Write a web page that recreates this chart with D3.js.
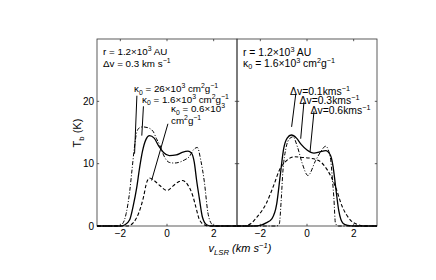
<!DOCTYPE html>
<html><head><meta charset="utf-8">
<script src="https://cdn.jsdelivr.net/npm/d3@7"></script>
<style>body{margin:0;background:#fff}svg{display:block}text{font-family:"Liberation Sans",Arial,Helvetica,sans-serif;fill:#000}</style>
</head><body><svg id="c" width="436" height="280"></svg>
<script>
// ---- data ----
const xTicks = [-2, 0, 2];
const yTicks = [0, 10, 20];

// left panel: r = 1.2e3 AU, dv = 0.3 km/s, varying kappa0
const leftK26V = [-3, -2.1, -1.9, -1.75, -1.6, -1.5, -1.4, -1.3, -1.2, -1.05, -0.85, -0.6, -0.45, -0.3, -0.15, 0.1, 0.3, 0.5, 0.75, 0.95, 1.15, 1.3, 1.45, 1.6, 1.75, 1.9, 2.05, 3];
const leftK26T = [0, 0, 0.4, 2, 5.5, 9, 12.5, 15, 15.7, 15.9, 15.8, 15.2, 14.0, 12.9, 11.4, 10.2, 10.1, 10.2, 10.6, 11.1, 12.3, 12.6, 10.5, 7.1, 2.2, 0.4, 0, 0];
const leftK16V = [-3, -2.0, -1.8, -1.6, -1.45, -1.3, -1.18, -1.05, -0.9, -0.75, -0.55, -0.35, -0.15, 0.1, 0.4, 0.65, 0.9, 1.05, 1.17, 1.27, 1.38, 1.52, 1.7, 1.9, 3];
const leftK16T = [0, 0, 0.2, 1.0, 3.2, 6.1, 9.2, 12.0, 13.9, 14.5, 14.1, 12.8, 11.8, 11.3, 11.4, 11.8, 12.0, 11.7, 10.2, 7.3, 4.6, 1.4, 0.2, 0, 0];
const leftK06V = [-3, -1.7, -1.45, -1.22, -1.01, -0.87, -0.75, -0.55, -0.31, 0, 0.25, 0.5, 0.65, 0.89, 1.1, 1.24, 1.38, 1.59, 1.8, 3];
const leftK06T = [0, 0, 0.5, 2.0, 4.6, 7.0, 7.7, 7.3, 6.5, 5.7, 6.4, 7.1, 7.3, 6.6, 4.9, 3.0, 1.1, 0.2, 0, 0];

// right panel: r = 1.2e3 AU, kappa0 = 1.6e3, varying dv
const rightDv01V = [-3, -1.3, -1.19, -1.1, -1.04, -0.9, -0.75, -0.6, -0.41, -0.2, 0.04, 0.37, 0.6, 0.8, 1.0, 1.1, 1.15, 1.22, 1.35, 3];
const rightDv01T = [0, 0, 0.3, 4.5, 8.4, 12.5, 14.0, 14.3, 12.7, 10.0, 8.1, 10.5, 12.0, 12.8, 11.0, 7.0, 4.6, 0.4, 0, 0];
const rightDv03V = [-3, -2.3, -2.0, -1.75, -1.5, -1.3, -1.15, -1.0, -0.85, -0.67, -0.45, -0.25, 0.0, 0.3, 0.55, 0.8, 1.0, 1.12, 1.22, 1.36, 1.55, 1.75, 2.0, 3];
const rightDv03T = [0, 0, 0.1, 0.5, 1.2, 3.5, 8.0, 12.4, 14.1, 14.6, 14.1, 13.1, 12.2, 11.7, 11.9, 12.1, 11.4, 9.5, 6.5, 2.5, 0.4, 0.1, 0, 0];
const rightDv06V = [-3, -2.7, -2.4, -2.15, -1.75, -1.4, -1.19, -0.9, -0.55, -0.2, 0.1, 0.5, 0.87, 1.22, 1.5, 1.85, 2.2, 2.5, 3];
const rightDv06T = [0, 0, 0.4, 1.4, 3.6, 6.8, 8.9, 10.4, 11.1, 11.0, 10.9, 10.5, 9.0, 6.3, 3.2, 1.0, 0.2, 0, 0];

// ---- layout ----
const svg = d3.select("#c");
const yTop = 39, yBot = 226;
const panels = [{x0: 97, x1: 237}, {x0: 237, x1: 377}];
const y = d3.scaleLinear().domain([0, 30]).range([yBot, yTop]);
const xs = panels.map(p => d3.scaleLinear().domain([-3, 3]).range([p.x0, p.x1]));

const styles = {
  solid: {w: 1.3, dash: null},
  dashed: {w: 1.1, dash: "3.5,2.2"},
  dashdot: {w: 1.0, dash: "4,1.8,1,1.8"}
};

function drawCurve(g, x, V, T, st) {
  const pts = V.map((v, i) => [v, T[i]]);
  const line = d3.line().x(d => x(d[0])).y(d => y(d[1])).curve(d3.curveMonotoneX);
  g.append("path").attr("d", line(pts)).attr("fill", "none").attr("stroke", "#000")
    .attr("stroke-width", styles[st].w).attr("stroke-dasharray", styles[st].dash)
    .attr("stroke-linejoin", "round");
}

function drawFrame(i, showYLabels) {
  const p = panels[i], x = xs[i];
  const g = svg.append("g");
  g.append("rect").attr("x", p.x0).attr("y", yTop).attr("width", p.x1 - p.x0).attr("height", yBot - yTop)
    .attr("fill", "none").attr("stroke", "#333").attr("stroke-width", 0.8);
  const tl = 2.2;
  xTicks.forEach(t => {
    g.append("line").attr("x1", x(t)).attr("x2", x(t)).attr("y1", yBot).attr("y2", yBot - tl).attr("stroke", "#333").attr("stroke-width", 0.8);
    g.append("line").attr("x1", x(t)).attr("x2", x(t)).attr("y1", yTop).attr("y2", yTop + tl).attr("stroke", "#333").attr("stroke-width", 0.8);
    g.append("text").attr("x", x(t)).attr("y", yBot + 11).attr("text-anchor", "middle").attr("font-size", 10)
      .text(d3.format("")(t));
  });
  yTicks.forEach(t => {
    g.append("line").attr("x1", p.x0).attr("x2", p.x0 + tl).attr("y1", y(t)).attr("y2", y(t)).attr("stroke", "#333").attr("stroke-width", 0.8);
    g.append("line").attr("x1", p.x1).attr("x2", p.x1 - tl).attr("y1", y(t)).attr("y2", y(t)).attr("stroke", "#333").attr("stroke-width", 0.8);
    if (showYLabels) g.append("text").attr("x", p.x0 - 3).attr("y", y(t) + 3.6).attr("text-anchor", "end").attr("font-size", 10).text(t);
  });
  return g;
}

// rich text helper: parts = [[text, mode]] mode: n normal, sup, sub
function rich(g, xp, yp, parts, fs) {
  const t = g.append("text").attr("x", xp).attr("y", yp).attr("font-size", fs);
  let shift = 0;
  parts.forEach(([s, m]) => {
    const ts = t.append("tspan").text(s);
    let target = 0, size = fs;
    if (m === "sup") { target = -0.38 * fs; size = fs * 0.7; }
    if (m === "sub") { target = 0.26 * fs; size = fs * 0.7; }
    ts.attr("dy", target - shift).attr("font-size", size);
    shift = target;
  });
  return t;
}

function pointer(g, x, v1, t1, v2, t2) {
  g.append("line").attr("x1", x(v1)).attr("y1", y(t1)).attr("x2", x(v2)).attr("y2", y(t2))
    .attr("stroke", "#000").attr("stroke-width", 1);
}

// ---- left panel ----
const gL = drawFrame(0, true);
const xL = xs[0];
drawCurve(gL, xL, leftK26V, leftK26T, "dashdot");
drawCurve(gL, xL, leftK06V, leftK06T, "dashed");
drawCurve(gL, xL, leftK16V, leftK16T, "solid");
const fsL = 9.8;
rich(gL, 103, 55, [["r = 1.2×10", "n"], ["3", "sup"], [" AU", "n"]], fsL);
rich(gL, 103, 67, [["Δv = 0.3 km s", "n"], ["−1", "sup"]], fsL);
rich(gL, 134, 92, [["κ", "n"], ["0", "sub"], [" = 26×10", "n"], ["3", "sup"], [" cm", "n"], ["2", "sup"], ["g", "n"], ["−1", "sup"]], fsL);
rich(gL, 142, 102.5, [["κ", "n"], ["0", "sub"], [" = 1.6×10", "n"], ["3", "sup"], [" cm", "n"], ["2", "sup"], ["g", "n"], ["−1", "sup"]], fsL);
rich(gL, 171, 112, [["κ", "n"], ["0", "sub"], [" = 0.6×10", "n"], ["3", "sup"]], fsL);
rich(gL, 171, 124, [["cm", "n"], ["2", "sup"], ["g", "n"], ["−1", "sup"]], fsL);
pointer(gL, xL, -1.29, 20.9, -1.39, 11.6);
pointer(gL, xL, -1.01, 19.2, -1.08, 14.5);
pointer(gL, xL, 0.04, 16.4, -0.66, 7.3);

// ---- right panel ----
const gR = drawFrame(1, false);
const xR = xs[1];
drawCurve(gR, xR, rightDv01V, rightDv01T, "dashdot");
drawCurve(gR, xR, rightDv06V, rightDv06T, "dashed");
drawCurve(gR, xR, rightDv03V, rightDv03T, "solid");
const fsR = 10.4;
rich(gR, 243, 55.5, [["r = 1.2×10", "n"], ["3", "sup"], [" AU", "n"]], fsR);
rich(gR, 243, 66.5, [["κ", "n"], ["0", "sub"], [" = 1.6×10", "n"], ["3", "sup"], [" cm", "n"], ["2", "sup"], ["g", "n"], ["−1", "sup"]], fsR);
rich(gR, 290, 95, [["Δv=0.1kms", "n"], ["−1", "sup"]], fsR);
rich(gR, 299.5, 104.3, [["Δv=0.3kms", "n"], ["−1", "sup"]], fsR);
rich(gR, 310.5, 113.6, [["Δv=0.6kms", "n"], ["−1", "sup"]], fsR);
pointer(gR, xR, -0.48, 21.2, -0.66, 15.9);
pointer(gR, xR, -0.13, 19.9, -0.27, 14.0);
pointer(gR, xR, 0.30, 18.4, 0.13, 11.9);

// ---- axis labels ----
const xl = rich(svg, 240, 252, [["v", "n"], ["LSR", "sub"], [" (km s", "n"], ["−1", "sup"], [")", "n"]], 11);
xl.attr("text-anchor", "middle").attr("font-style", "italic");
const yl = rich(svg, 0, 0, [["T", "n"], ["b", "sub"], [" (K)", "n"]], 11);
yl.attr("text-anchor", "middle").attr("transform", "translate(81,133) rotate(-90)");
</script></body></html>
